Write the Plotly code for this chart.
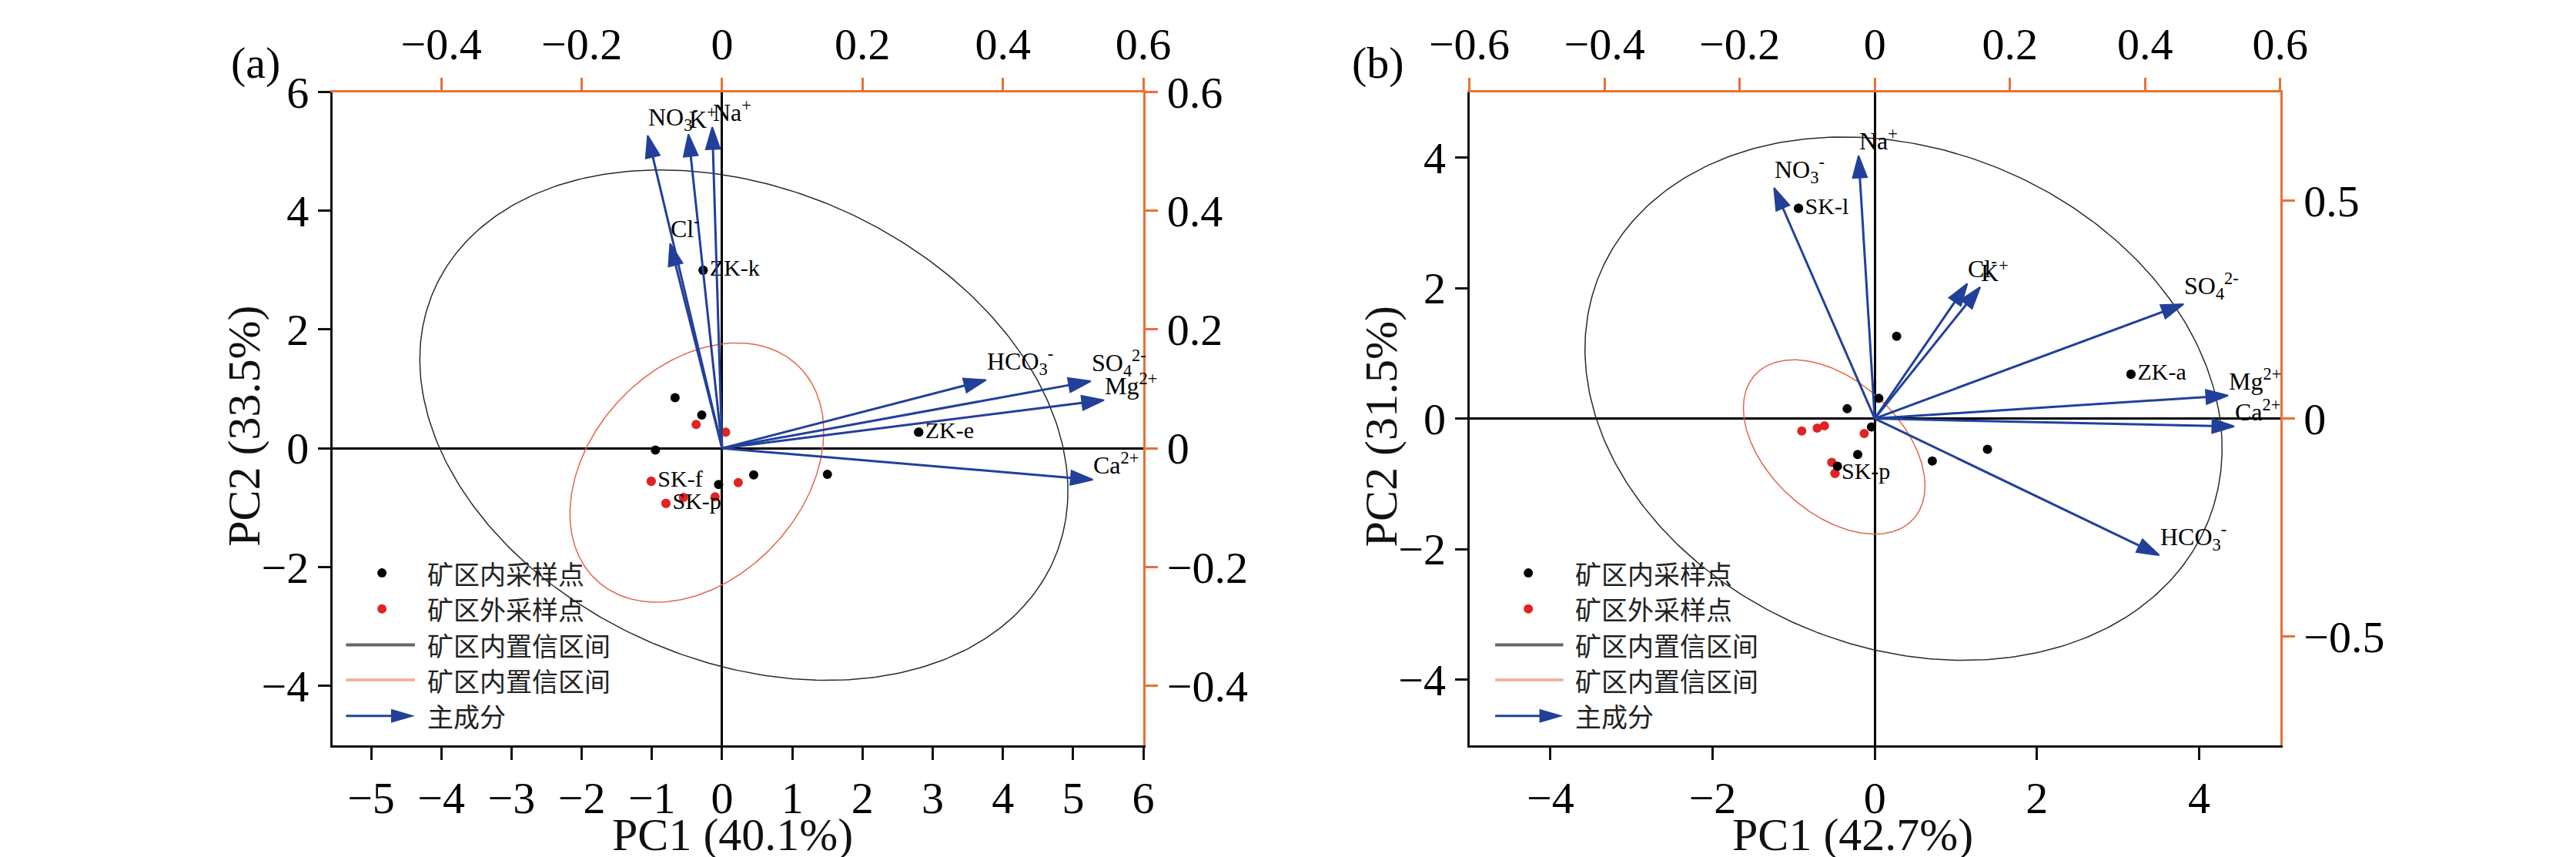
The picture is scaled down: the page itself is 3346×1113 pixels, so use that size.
import numpy as np
import plotly.graph_objects as go

SERIF = "Liberation Serif"
CJK = "Noto Sans CJK SC"
BLUE = "#22409A"
ORANGE = "#E97132"
DOT_RED = "#E02424"
ELL_BLACK = "#2A2A2A"
ELL_RED = "#E2674A"

# ---------------- panel (a) ----------------
# sample scores, inside mining area
a_in_x = [-0.67, -0.29, -0.95, -0.27, -0.05, 0.45, 1.50, 2.80]
a_in_y = [0.85, 0.56, -0.03, 3.00, -0.61, -0.45, -0.44, 0.27]
a_in_lab = ["", "", "", "ZK-k", "", "", "", "ZK-e"]
# sample scores, outside mining area
a_out_x = [-0.37, 0.05, -1.01, -0.80, -0.55, -0.10, 0.23]
a_out_y = [0.40, 0.27, -0.555, -0.93, -0.83, -0.82, -0.58]
a_out_lab = ["", "", "SK-f", "SK-p", "", "", ""]
# loadings (top / right axes)
a_ions = ["NO<sub>3</sub><sup>-</sup>", "K<sup>+</sup>", "Na<sup>+</sup>", "Cl<sup>-</sup>",
          "HCO<sub>3</sub><sup>-</sup>", "SO<sub>4</sub><sup>2-</sup>", "Mg<sup>2+</sup>", "Ca<sup>2+</sup>"]
a_load_x = [-0.106, -0.048, -0.014, -0.074, 0.376, 0.525, 0.544, 0.528]
a_load_y = [0.527, 0.529, 0.541, 0.345, 0.115, 0.113, 0.081, -0.053]
# confidence ellipses: centre x, centre y, semi-axis a, semi-axis b, angle (deg)
a_ell_in = [0.31, 0.39, 5.02, 3.82, -37.3]
a_ell_out = [-0.36, -0.41, 2.34, 1.60, 60.5]
a_xtitle = "PC1 (40.1%)"
a_ytitle = "PC2 (33.5%)"

# ---------------- panel (b) ----------------
b_in_x = [-0.94, 0.27, 3.16, 0.05, -0.34, -0.04, -0.21, -0.46, 0.71, 1.39]
b_in_y = [3.22, 1.26, 0.68, 0.31, 0.15, -0.13, -0.55, -0.73, -0.65, -0.47]
b_in_lab = ["SK-l", "", "ZK-a", "", "", "", "", "", "", ""]
b_out_x = [-0.90, -0.71, -0.62, -0.13, -0.53, -0.49]
b_out_y = [-0.19, -0.145, -0.11, -0.23, -0.67, -0.84]
b_out_lab = ["", "", "", "", "", "SK-p"]
b_ions = ["Na<sup>+</sup>", "NO<sub>3</sub><sup>-</sup>", "Cl<sup>-</sup>", "K<sup>+</sup>",
          "SO<sub>4</sub><sup>2-</sup>", "Mg<sup>2+</sup>", "Ca<sup>2+</sup>", "HCO<sub>3</sub><sup>-</sup>"]
b_load_x = [-0.024, -0.149, 0.137, 0.156, 0.457, 0.523, 0.532, 0.421]
b_load_y = [0.604, 0.530, 0.310, 0.302, 0.263, 0.053, -0.018, -0.314]
b_ell_in = [0.355, 0.305, 4.33, 3.57, -48.0]
b_ell_out = [-0.50, -0.435, 1.495, 0.895, -55.8]
b_xtitle = "PC1 (42.7%)"
b_ytitle = "PC2 (31.5%)"

legend_names = ["矿区内采样点", "矿区外采样点", "矿区内置信区间", "矿区内置信区间", "主成分"]


def ellipse(p, n=361):
    cx, cy, a, b, deg = p
    t = np.linspace(0, 2 * np.pi, n)
    th = np.radians(deg)
    x = cx + a * np.cos(t) * np.cos(th) - b * np.sin(t) * np.sin(th)
    y = cy + a * np.cos(t) * np.sin(th) + b * np.sin(t) * np.cos(th)
    return x, y


fig = go.Figure()
annotations = []
shapes = []


def add_points(xp, yp, px, py, labels, color):
    fig.add_trace(go.Scatter(x=px, y=py, mode="markers", xaxis=xp, yaxis=yp,
                             marker=dict(color=color, size=12), hoverinfo="skip"))
    keep = [i for i, t in enumerate(labels) if t]
    fig.add_trace(go.Scatter(x=[px[i] for i in keep], y=[py[i] for i in keep],
                             text=[labels[i] for i in keep], mode="markers+text",
                             textposition="middle right", xaxis=xp, yaxis=yp,
                             marker=dict(color=color, size=12), hoverinfo="skip",
                             textfont=dict(family=SERIF, size=30, color="black")))


def add_panel(xp, yp, xs, ys, in_x, in_y, in_lab, out_x, out_y, out_lab,
              ions, lx, ly, ell_in, ell_out, leg_pos):
    ex, ey = ellipse(ell_in)
    fig.add_trace(go.Scatter(x=ex, y=ey, mode="lines", xaxis=xp, yaxis=yp,
                             line=dict(color=ELL_BLACK, width=1.5), hoverinfo="skip"))
    ex, ey = ellipse(ell_out)
    fig.add_trace(go.Scatter(x=ex, y=ey, mode="lines", xaxis=xp, yaxis=yp,
                             line=dict(color=ELL_RED, width=1.5), hoverinfo="skip"))
    add_points(xp, yp, out_x, out_y, out_lab, DOT_RED)
    add_points(xp, yp, in_x, in_y, in_lab, "black")
    # loading arrows
    for name, x1, y1 in zip(ions, lx, ly):
        fig.add_trace(go.Scatter(x=[0, x1], y=[0, y1], mode="lines+markers",
                                 xaxis=xs, yaxis=ys, line=dict(color=BLUE, width=3),
                                 marker=dict(symbol="arrow", size=[0, 30], angleref="previous",
                                             color=BLUE, opacity=1,
                                             line=dict(width=2, color=BLUE)),
                                 hoverinfo="skip"))
        annotations.append(dict(x=x1, y=y1, xref=xs, yref=ys, text=name, showarrow=False,
                                xanchor="left", yanchor="bottom", borderpad=0,
                                font=dict(family=SERIF, size=32, color="black")))
    # legend drawn inside the axes
    xd, yd = xp + " domain", yp + " domain"
    mx, lx0, lx1, tx = leg_pos
    rows = [0.2635, 0.2085, 0.1535, 0.0997, 0.0447]
    for yy, col in zip(rows[:2], ["black", DOT_RED]):
        shapes.append(dict(type="circle", xref=xd, yref=yd, xsizemode="pixel", ysizemode="pixel",
                           xanchor=mx, yanchor=yy, x0=-6, x1=6, y0=-6, y1=6,
                           fillcolor=col, line=dict(width=0)))
    for yy, col in zip(rows[2:4], ["#666666", "#F2B3A2"]):
        shapes.append(dict(type="line", xref=xd, yref=yd, x0=lx0, x1=lx1, y0=yy, y1=yy,
                           line=dict(color=col, width=4)))
    shapes.append(dict(type="line", xref=xd, yref=yd, x0=lx0, x1=lx1 - 0.02, y0=rows[4], y1=rows[4],
                       line=dict(color=BLUE, width=3)))
    shapes.append(dict(type="path", xref=xd, yref=yd, xsizemode="pixel", ysizemode="pixel",
                       xanchor=lx1, yanchor=rows[4], path="M0,0 L-31,-9 L-31,9 Z",
                       fillcolor=BLUE, line=dict(width=0)))
    for yy, name in zip(rows, legend_names):
        annotations.append(dict(x=tx, y=yy, xref=xd, yref=yd, text=name, showarrow=False,
                                xanchor="left", yanchor="middle",
                                font=dict(family=CJK, size=34, color="#222222")))


add_panel("x", "y", "x2", "y2", a_in_x, a_in_y, a_in_lab, a_out_x, a_out_y, a_out_lab,
          a_ions, a_load_x, a_load_y, a_ell_in, a_ell_out, (0.061, 0.0166, 0.1017, 0.1146))
add_panel("x3", "y3", "x4", "y4", b_in_x, b_in_y, b_in_lab, b_out_x, b_out_y, b_out_lab,
          b_ions, b_load_x, b_load_y, b_ell_in, b_ell_out, (0.0728, 0.0319, 0.1159, 0.1284))

tickfont = dict(family=SERIF, size=58, color="black")
ydom = [1 - 955 / 1113, 1 - 82 / 1113]
xdom_a = [381 / 3346, 1463 / 3346]
xdom_b = [1898 / 3346, 2980 / 3346]


def prim(dom, rng, vals, anchor):
    return dict(domain=dom, range=rng, tickvals=vals, anchor=anchor, showgrid=False,
                zeroline=True, zerolinecolor="black", zerolinewidth=3,
                showline=True, linecolor="#111111", linewidth=3,
                ticks="outside", ticklen=16, tickwidth=3, tickcolor="#111111",
                tickfont=tickfont)


def sec(rng, vals, over, side, anchor):
    return dict(range=rng, tickvals=vals, overlaying=over, side=side, anchor=anchor,
                showgrid=False, zeroline=False, showline=True, linecolor=ORANGE, linewidth=3,
                ticks="outside", ticklen=16, tickwidth=3, tickcolor=ORANGE,
                tickfont=tickfont)


fig.update_layout(
    xaxis=prim(xdom_a, [-5.55, 6], list(range(-5, 7)), "y"),
    yaxis=prim(ydom, [-5, 6], [-4, -2, 0, 2, 4, 6], "x"),
    xaxis2=sec([-0.555, 0.6], [-0.4, -0.2, 0, 0.2, 0.4, 0.6], "x", "top", "y2"),
    yaxis2=sec([-0.5, 0.6], [-0.4, -0.2, 0, 0.2, 0.4, 0.6], "y", "right", "x2"),
    xaxis3=prim(xdom_b, [-5, 5], [-4, -2, 0, 2, 4], "y3"),
    yaxis3=prim(ydom, [-5, 5], [-4, -2, 0, 2, 4], "x3"),
    xaxis4=sec([-0.6, 0.6], [-0.6, -0.4, -0.2, 0, 0.2, 0.4, 0.6], "x3", "top", "y4"),
    yaxis4=sec([-0.75, 0.75], [-0.5, 0, 0.5], "y3", "right", "x4"),
)

titlefont = dict(family=SERIF, size=60, color="#111111")
annotations += [
    dict(x=915 / 3346, y=1 - 1075 / 1113, xref="paper", yref="paper", text=a_xtitle,
         showarrow=False, xanchor="center", yanchor="middle", font=titlefont),
    dict(x=263 / 3346, y=1 - 529 / 1113, xref="paper", yref="paper", text=a_ytitle,
         showarrow=False, xanchor="center", yanchor="middle", textangle=-90, font=titlefont),
    dict(x=2410 / 3346, y=1 - 1075 / 1113, xref="paper", yref="paper", text=b_xtitle,
         showarrow=False, xanchor="center", yanchor="middle", font=titlefont),
    dict(x=1780 / 3346, y=1 - 529 / 1113, xref="paper", yref="paper", text=b_ytitle,
         showarrow=False, xanchor="center", yanchor="middle", textangle=-90, font=titlefont),
    dict(x=278 / 3346, y=1 - 43 / 1113, xref="paper", yref="paper", text="(a)",
         showarrow=False, xanchor="center", yanchor="middle", font=dict(family=SERIF, size=58)),
    dict(x=1776 / 3346, y=1 - 43 / 1113, xref="paper", yref="paper", text="(b)",
         showarrow=False, xanchor="center", yanchor="middle", font=dict(family=SERIF, size=58)),
]

fig.update_layout(
    width=3346, height=1113,
    margin=dict(l=0, r=0, t=0, b=0),
    paper_bgcolor="white", plot_bgcolor="white",
    showlegend=False,
    annotations=annotations,
    shapes=shapes,
    font=dict(family=SERIF, color="black"),
)

fig.write_html("out.html")
